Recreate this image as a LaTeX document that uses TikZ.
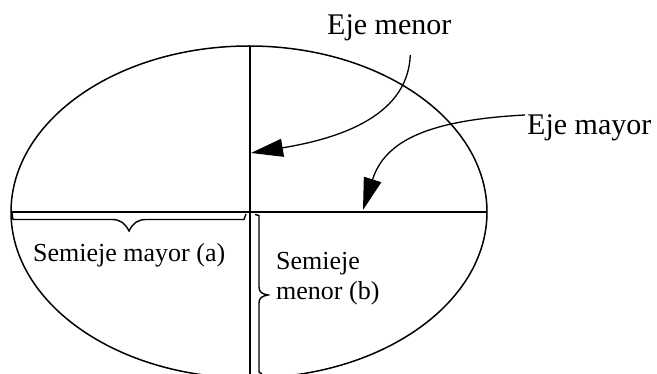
\documentclass[tikz,border=0pt]{standalone}
\usepackage{fontspec}
\setmainfont{Liberation Serif}
\usetikzlibrary{arrows.meta}
\begin{document}
\begin{tikzpicture}[x=1pt,y=-1pt,
  shapeline/.style={line width=1.5pt},
  braceline/.style={line width=1.4pt},
  pointer/.style={line width=1.3pt,-{Triangle[length=32pt,width=18pt]}},
  biglabel/.style={inner sep=0pt,font=\fontsize{30}{36}\selectfont},
  smalllabel/.style={inner sep=0pt,font=\fontsize{26}{30}\selectfont,align=left}]
\fill[white] (0,0) rectangle (657,374);
\useasboundingbox (0,0) rectangle (657,374);
\clip (0,0) rectangle (657,374);
% ellipse and axes
\draw[shapeline] (249,212) ellipse [x radius=238pt, y radius=166pt];
\draw[shapeline] (11,212) -- (487,212);
\draw[shapeline] (250,46) -- (250,380);
% brace of the semi-major axis
\draw[braceline] (12,213) -- (13,219.5) -- (112,219.5)
  .. controls (120,219.5) and (125,223) .. (129,231)
  .. controls (133,223) and (138,219.5) .. (146,219.5)
  -- (244,219.5) -- (246,214);
% brace of the semi-minor axis
\draw[braceline] (255,214.5) -- (259,215.5) -- (259,287)
  .. controls (259,292) and (262,294) .. (268,295)
  .. controls (262,296) and (259,298) .. (259,303)
  -- (259,372) -- (262,374);
% labels
\node[biglabel,anchor=base west] (emen) at (327,35) {Eje menor};
\node[biglabel,anchor=base west] (emay) at (527,135) {Eje mayor};
\node[smalllabel,anchor=base west] (sma) at (33,262) {Semieje mayor (a)};
\node[smalllabel,anchor=base west] (smi) at (276,300) {Semieje\\menor (b)};
% arrow targets
\coordinate (tmen) at (251,153);
\coordinate (tmay) at (363,210);
\draw[pointer] ([xshift=21pt,yshift=-20pt]emen.base)
  .. controls (408,120) and (330,140) .. (tmen);
\draw[pointer] ([xshift=-2pt,yshift=20pt]emay.base west)
  .. controls (430,120) and (385,140) .. (tmay);
\end{tikzpicture}
\end{document}
